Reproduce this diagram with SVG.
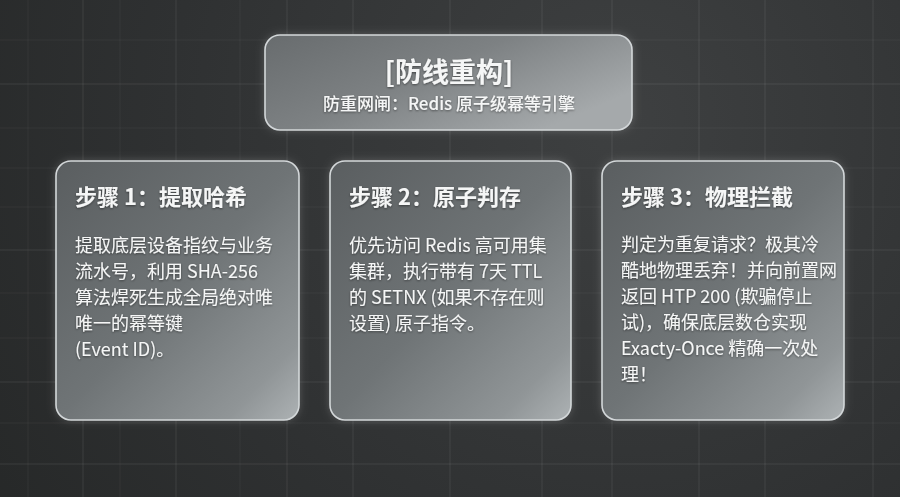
<svg xmlns="http://www.w3.org/2000/svg" width="900" height="497" viewBox="0 0 900 497">
<defs>
<radialGradient id="bg" cx="620" cy="120" r="750" gradientUnits="userSpaceOnUse">
<stop offset="0" stop-color="#3e4041"/>
<stop offset="0.6" stop-color="#2f3132"/>
<stop offset="1" stop-color="#262828"/>
</radialGradient>
<linearGradient id="card" x1="0" y1="0" x2="1" y2="1">
<stop offset="0" stop-color="#5a5e60"/>
<stop offset="0.5" stop-color="#6f7476"/>
<stop offset="0.85" stop-color="#909597"/>
<stop offset="1" stop-color="#adb2b4"/>
</linearGradient>
<linearGradient id="head" x1="0" y1="0" x2="1" y2="0.6">
<stop offset="0" stop-color="#686c6e"/>
<stop offset="0.5" stop-color="#7d8183"/>
<stop offset="1" stop-color="#a5a9ab"/>
</linearGradient>
<filter id="glow" x="-20%" y="-20%" width="140%" height="140%">
<feGaussianBlur stdDeviation="5"/>
</filter>
<filter id="ts" x="-5%" y="-20%" width="110%" height="140%">
<feDropShadow dx="0" dy="1" stdDeviation="1" flood-color="#000" flood-opacity="0.45"/>
</filter>
</defs>
<style>
.grid line{stroke:#ffffff;stroke-opacity:0.09;stroke-width:1}
.grid line.f{stroke-opacity:0.05}
.halo{fill:#ffffff;fill-opacity:0.22}
.box{stroke:#d3d7d9;stroke-width:1.6}
.t{font-family:"Noto Sans CJK SC","Noto Sans",sans-serif;fill:#f5f6f6}
.h1{font-size:27px;font-weight:700}
.sub{font-size:17px;font-weight:500}
.ct{font-size:22px;font-weight:700}
.b{font-size:18px;font-weight:400}
</style>
<rect width="900" height="497" fill="url(#bg)"/>
<g class="grid">
<line x1="28" y1="0" x2="28" y2="497" class="f"/>
<line x1="83" y1="0" x2="83" y2="497"/>
<line x1="120" y1="0" x2="120" y2="497" class="f"/>
<line x1="176" y1="0" x2="176" y2="497"/>
<line x1="240" y1="0" x2="240" y2="497" class="f"/>
<line x1="287" y1="0" x2="287" y2="497"/>
<line x1="353" y1="0" x2="353" y2="497"/>
<line x1="450" y1="0" x2="450" y2="497"/>
<line x1="542" y1="0" x2="542" y2="497"/>
<line x1="612" y1="0" x2="612" y2="497"/>
<line x1="699" y1="0" x2="699" y2="497"/>
<line x1="765" y1="0" x2="765" y2="497"/>
<line x1="873" y1="0" x2="873" y2="497"/>
<line x1="0" y1="40" x2="900" y2="40" class="f"/>
<line x1="0" y1="84" x2="900" y2="84"/>
<line x1="0" y1="128" x2="900" y2="128" class="f"/>
<line x1="0" y1="168" x2="900" y2="168" class="f"/>
<line x1="0" y1="207" x2="900" y2="207" class="f"/>
<line x1="0" y1="250" x2="900" y2="250"/>
<line x1="0" y1="293" x2="900" y2="293" class="f"/>
<line x1="0" y1="338" x2="900" y2="338" class="f"/>
<line x1="0" y1="382" x2="900" y2="382"/>
<line x1="0" y1="423" x2="900" y2="423" class="f"/>
<line x1="0" y1="464" x2="900" y2="464"/>
</g>
<g id="connectors"/>
<g id="header">
<rect x="265" y="35" width="367" height="95" rx="15" class="halo" filter="url(#glow)"/>
<rect x="265" y="35" width="367" height="95" rx="15" fill="url(#head)" class="box"/>
<text x="449" y="82" text-anchor="middle" class="t h1" filter="url(#ts)">[防线重构]</text>
<text x="449" y="110" text-anchor="middle" class="t sub" filter="url(#ts)">防重网闸：Redis 原子级幂等引擎</text>
</g>
<g id="step1">
<rect x="56" y="161" width="243" height="259" rx="15" class="halo" filter="url(#glow)"/>
<rect x="56" y="161" width="243" height="259" rx="15" fill="url(#card)" class="box"/>
<text x="75" y="205" class="t ct" filter="url(#ts)">步骤 1：提取哈希</text>
<g class="t b" filter="url(#ts)">
<text x="75" y="252">提取底层设备指纹与业务</text>
<text x="75" y="278">流水号，利用 SHA-256</text>
<text x="75" y="304">算法焊死生成全局绝对唯</text>
<text x="75" y="330">唯一的幂等键</text>
<text x="75" y="356">(Event ID)。</text>
</g>
</g>
<g id="step2">
<rect x="330" y="161" width="241" height="259" rx="15" class="halo" filter="url(#glow)"/>
<rect x="330" y="161" width="241" height="259" rx="15" fill="url(#card)" class="box"/>
<text x="349" y="205" class="t ct" filter="url(#ts)">步骤 2：原子判存</text>
<g class="t b" filter="url(#ts)">
<text x="349" y="252">优先访问 Redis 高可用集</text>
<text x="349" y="278">集群，执行带有 7天 TTL</text>
<text x="349" y="304">的 SETNX (如果不存在则</text>
<text x="349" y="330">设置) 原子指令。</text>
</g>
</g>
<g id="step3">
<rect x="602" y="161" width="242" height="259" rx="15" class="halo" filter="url(#glow)"/>
<rect x="602" y="161" width="242" height="259" rx="15" fill="url(#card)" class="box"/>
<text x="621" y="205" class="t ct" filter="url(#ts)">步骤 3：物理拦截</text>
<g class="t b" filter="url(#ts)">
<text x="621" y="251">判定为重复请求？极其冷</text>
<text x="621" y="277">酷地物理丢弃！并向前置网</text>
<text x="621" y="303">返回 HTP 200 (欺骗停止</text>
<text x="621" y="329">试)，确保底层数仓实现</text>
<text x="621" y="355">Exacty-Once 精确一次处</text>
<text x="621" y="381">理！</text>
</g>
</g>
</svg>
